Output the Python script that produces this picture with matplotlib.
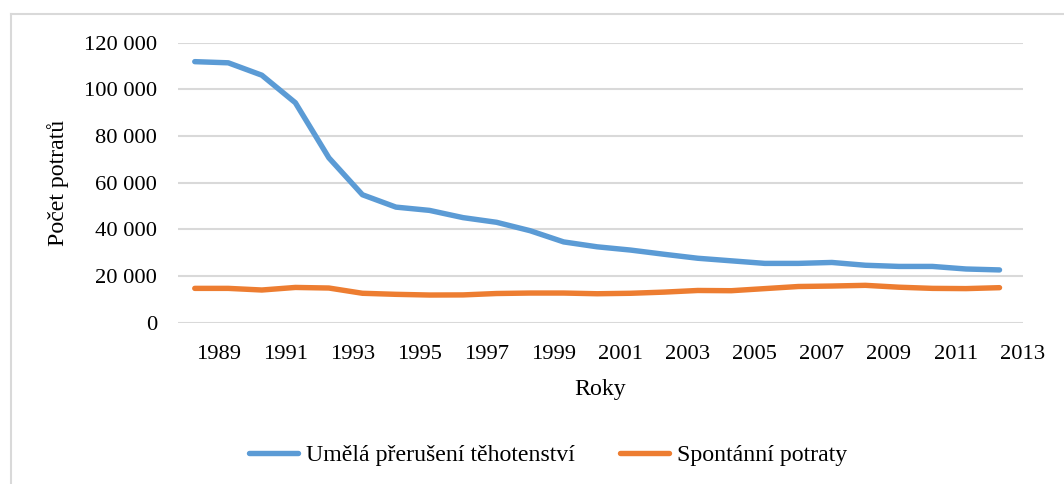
import matplotlib
matplotlib.use("Agg")
import matplotlib.pyplot as plt
from matplotlib.lines import Line2D
from matplotlib.ticker import FuncFormatter

years = list(range(1989, 2014))
umela = [111800, 111300, 106000, 94200, 70600, 54800, 49500, 48100, 45000, 43000,
         39400, 34600, 32500, 31100, 29300, 27600, 26500, 25400, 25400, 25800,
         24600, 24100, 24100, 23000, 22600]
spontanni = [14700, 14700, 14000, 15100, 14850, 12600, 12150, 11850, 11900, 12500,
             12700, 12700, 12400, 12600, 13100, 13800, 13700, 14600, 15500, 15700,
             16000, 15200, 14700, 14600, 15000]
tick_years = years[::2]
series_names = ["Umělá přerušení těhotenství", "Spontánní potraty"]
y_ticks = [0, 20000, 40000, 60000, 80000, 100000, 120000]

plt.rcParams['font.family'] = ['Liberation Serif', 'DejaVu Serif']
FS = 16.2
FS2 = 17.2

fig = plt.figure(figsize=(10.64, 4.84), dpi=100)
W, H = 1064, 484
L, R, T, B = 178, 1023, 42.5, 322.7
ax = fig.add_axes([L / W, 1 - B / H, (R - L) / W, (B - T) / H])

blue = '#5B9BD5'
orange = '#ED7D31'
LW = 3.9
ax.plot(years, umela, color=blue, lw=LW, solid_capstyle='round', solid_joinstyle='round', zorder=3)
ax.plot(years, spontanni, color=orange, lw=LW, solid_capstyle='round', solid_joinstyle='round', zorder=3)

ax.set_xlim(years[0] - 0.5, years[-1] + 0.5)
ax.set_ylim(0, 120000)
ax.set_yticks(y_ticks)
ax.yaxis.set_major_formatter(FuncFormatter(lambda v, p: f"{int(v):,}".replace(",", " ")))
ax.set_xticks([y + 0.7 for y in tick_years])
ax.set_xticklabels([str(y) for y in tick_years])
ax.tick_params(axis='both', length=0, labelsize=FS)
ax.tick_params(axis='x', pad=16)
ax.tick_params(axis='y', pad=15)
ax.grid(axis='y', color='#d9d9d9', lw=1.5)
ax.set_axisbelow(True)
for s in ax.spines.values():
    s.set_visible(False)

ax.set_ylabel("Počet potratů", fontsize=FS2)
ax.yaxis.set_label_coords(-(L - 58) / (R - L), (B - 183) / (B - T))
ax.set_xlabel("Roky", fontsize=FS2)
ax.xaxis.set_label_coords((600 - L) / (R - L), -(390 - B) / (B - T))
ax.xaxis.label.set_va('center')
ax.yaxis.label.set_va('center')

handles = [Line2D([], [], color=blue, lw=LW, solid_capstyle='round'),
           Line2D([], [], color=orange, lw=LW, solid_capstyle='round')]
fig.legend(handles, series_names, loc='center', bbox_to_anchor=(548 / W, 1 - 455 / H),
           ncol=2, frameon=False, fontsize=FS2, handlelength=2.05, handletextpad=0.33,
           columnspacing=1.9, borderaxespad=0, borderpad=0)

# chart border (cropped on right/bottom)
fig.add_artist(Line2D([11 / W, 1.0], [1 - 14 / H, 1 - 14 / H], color='#d9d9d9', lw=1.5))
fig.add_artist(Line2D([11 / W, 11 / W], [1 - 14 / H, 0.0], color='#d9d9d9', lw=1.5))

fig.savefig("out.png", dpi=100)
